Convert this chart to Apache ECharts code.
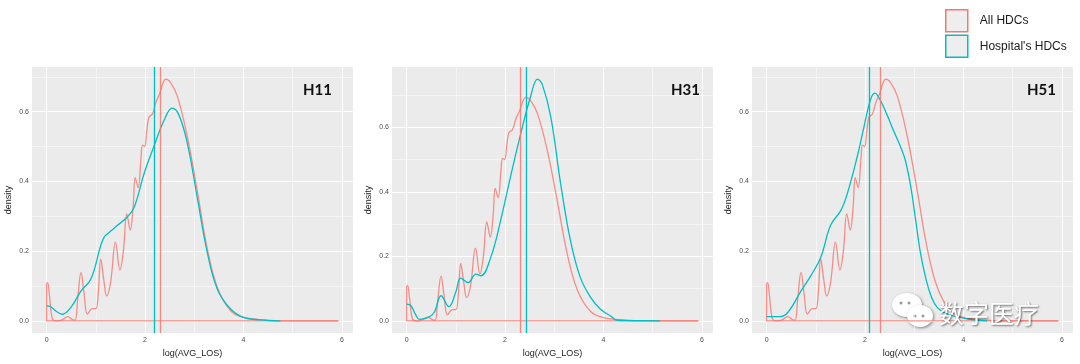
<!DOCTYPE html>
<html style="height: 100%">

<head>
    <meta charset="utf-8">
</head>

<body style="height: 100%; margin: 0; background: #fff">
    <div id="container" style="width: 1080px; height: 364px">
    </div>

    <script src="https://cdn.jsdelivr.net/npm/echarts@6/dist/echarts.min.js" type="text/javascript"></script>

    <script type="text/javascript">
        // density of log(AVG_LOS), all HDCs (same curve in every panel)
        var allX = [0, 0, 0.02, 0.06, 0.12, 0.2, 0.3, 0.43, 0.52, 0.58, 0.63, 0.70, 0.76, 0.83, 0.93, 1.0, 1.05, 1.10, 1.16, 1.22, 1.30, 1.40, 1.49, 1.56, 1.63, 1.70, 1.76, 1.80, 1.86, 1.92, 1.95, 1.99, 2.04, 2.08, 2.15, 2.22, 2.30, 2.36, 2.42, 2.52, 2.66, 2.86, 3.06, 3.26, 3.47, 3.74, 4.0, 4.48, 4.75, 5.93];
        var allY = [0, 0.105, 0.11, 0.07, 0.005, 0, 0.002, 0.012, 0.004, 0.002, 0.06, 0.139, 0.08, 0.019, 0.035, 0.035, 0.08, 0.178, 0.12, 0.072, 0.11, 0.226, 0.146, 0.2, 0.307, 0.26, 0.33, 0.411, 0.382, 0.47, 0.504, 0.50, 0.55, 0.584, 0.593, 0.626, 0.653, 0.68, 0.693, 0.683, 0.643, 0.528, 0.374, 0.211, 0.096, 0.029, 0.01, 0.002, 0, 0];
        var allRange = [0, 5.93];
        var allMean = 2.31;

        // hospital HDCs
        var h11X = [0, 0.09, 0.2, 0.32, 0.49, 0.70, 0.90, 1.10, 1.17, 1.24, 1.44, 1.64, 1.78, 1.98, 2.18, 2.39, 2.55, 2.69, 2.86, 3.06, 3.26, 3.47, 3.74, 4.0, 4.34, 4.75];
        var h11Y = [0.043, 0.04, 0.027, 0.019, 0.038, 0.086, 0.12, 0.216, 0.24, 0.25, 0.274, 0.298, 0.326, 0.422, 0.50, 0.576, 0.61, 0.59, 0.509, 0.355, 0.20, 0.091, 0.034, 0.01, 0.003, 0];
        var h11Mean = 2.18;

        var h31X = [0, 0.09, 0.18, 0.26, 0.43, 0.56, 0.70, 0.86, 1.0, 1.10, 1.25, 1.41, 1.51, 1.71, 1.91, 2.11, 2.32, 2.52, 2.66, 2.76, 2.93, 3.13, 3.33, 3.53, 3.74, 3.94, 4.14, 4.28, 4.61, 5.15];
        var h31Y = [0.052, 0.047, 0.02, 0.005, 0.01, 0.026, 0.078, 0.044, 0.09, 0.133, 0.119, 0.145, 0.14, 0.197, 0.311, 0.446, 0.581, 0.696, 0.75, 0.732, 0.633, 0.426, 0.249, 0.135, 0.073, 0.036, 0.016, 0.002, 0.001, 0];
        var h31Mean = 2.43;

        var h51X = [0, 0.26, 0.43, 0.70, 0.90, 1.10, 1.30, 1.51, 1.64, 1.84, 1.98, 2.11, 2.20, 2.32, 2.45, 2.59, 2.72, 2.82, 2.93, 3.03, 3.13, 3.24, 3.34, 3.47, 3.67, 3.94, 4.21, 4.48];
        var h51Y = [0.012, 0.012, 0.024, 0.086, 0.13, 0.182, 0.274, 0.317, 0.365, 0.47, 0.557, 0.634, 0.653, 0.63, 0.59, 0.542, 0.50, 0.46, 0.384, 0.288, 0.192, 0.12, 0.072, 0.038, 0.019, 0.01, 0.003, 0];
        var h51Mean = 2.08;

        var panelNames = ['H11', 'H31', 'H51'];
        var seriesNames = ['All HDCs', "Hospital's HDCs"];

        // ticks and grid lines
        var xMajor = [0, 2, 4, 6];
        var xMinor = [1, 3, 5];
        var yMajor = [0, 0.2, 0.4, 0.6];
        var yMinor = [0.1, 0.3, 0.5, 0.7];
        var xLimits = [-0.297, 6.227];
        var yLimits = [[-0.0347, 0.728], [-0.0375, 0.7875], [-0.0347, 0.728]];

        var salmon = '#F8766D';
        var teal = '#00BFC4';

        function zip(xs, ys) {
            return xs.map(function (x, i) { return [x, ys[i]]; });
        }

        var hospitals = [
            { x: h11X, y: h11Y, mean: h11Mean },
            { x: h31X, y: h31Y, mean: h31Mean },
            { x: h51X, y: h51Y, mean: h51Mean }
        ];

        var dom = document.getElementById("container");
        var myChart = echarts.init(dom, null, { renderer: 'canvas' });

        var grids = [], xAxes = [], yAxes = [], series = [], titles = [];
        var lefts = [32, 392, 752];
        var titleRight = [748, 380, 24];

        hospitals.forEach(function (h, i) {
            grids.push({
                left: lefts[i], top: 67, width: 321, height: 266,
                show: true, backgroundColor: '#EBEBEB', borderWidth: 0
            });
            xAxes.push({
                type: 'value', gridIndex: i, min: xLimits[0], max: xLimits[1],
                axisLine: { show: false },
                axisTick: { show: true, length: 3, customValues: xMajor, lineStyle: { color: '#333' } },
                axisLabel: { customValues: xMajor, fontSize: 7, color: '#4D4D4D', margin: 4 },
                splitLine: { show: false },
                name: 'log(AVG_LOS)', nameLocation: 'middle', nameGap: 13,
                nameTextStyle: { fontSize: 9, color: '#1a1a1a' }
            });
            yAxes.push({
                type: 'value', gridIndex: i, min: yLimits[i][0], max: yLimits[i][1],
                axisLine: { show: false },
                axisTick: { show: true, length: 3, customValues: yMajor, lineStyle: { color: '#333' } },
                axisLabel: {
                    customValues: yMajor, fontSize: 7, color: '#4D4D4D', margin: 3,
                    formatter: function (v) { return v.toFixed(1); }
                },
                splitLine: { show: false },
                name: 'density', nameLocation: 'middle', nameGap: 19,
                nameTextStyle: { fontSize: 9, color: '#1a1a1a' }
            });
            titles.push({
                text: panelNames[i], right: titleRight[i], top: 83, padding: 0,
                textStyle: { fontFamily: 'Lato', fontWeight: 'bold', fontSize: 15, color: '#111' }
            });

            var gridLines = [];
            xMajor.forEach(function (v) { gridLines.push({ xAxis: v, lineStyle: { width: 1 } }); });
            yMajor.forEach(function (v) { gridLines.push({ yAxis: v, lineStyle: { width: 1 } }); });
            xMinor.forEach(function (v) { gridLines.push({ xAxis: v, lineStyle: { width: 0.5 } }); });
            yMinor.forEach(function (v) { gridLines.push({ yAxis: v, lineStyle: { width: 0.5 } }); });

            // bottom edge of the "All HDCs" density polygon, carries the panel grid lines
            series.push({
                name: seriesNames[0], type: 'line', xAxisIndex: i, yAxisIndex: i,
                data: [[allRange[0], 0], [allRange[1], 0]],
                showSymbol: false, z: 2,
                lineStyle: { color: salmon, width: 1.4, opacity: 0.8 },
                markLine: {
                    z: 1, silent: true, symbol: ['none', 'none'], label: { show: false },
                    lineStyle: { color: '#fff', type: 'solid' },
                    emphasis: { disabled: true },
                    data: gridLines
                }
            });
            series.push({
                name: seriesNames[0], type: 'line', xAxisIndex: i, yAxisIndex: i,
                data: zip(allX, allY), smooth: 0.4, showSymbol: false, z: 3,
                lineStyle: { color: salmon, width: 1.3, opacity: 0.8 },
                itemStyle: { color: salmon },
                markLine: {
                    silent: true, symbol: ['none', 'none'], label: { show: false },
                    lineStyle: { color: salmon, type: 'solid', width: 1.3, opacity: 0.85 },
                    data: [{ xAxis: allMean }]
                }
            });
            series.push({
                name: seriesNames[1], type: 'line', xAxisIndex: i, yAxisIndex: i,
                data: zip(h.x, h.y), smooth: 0.4, showSymbol: false, z: 4,
                lineStyle: { color: teal, width: 1.3 },
                itemStyle: { color: teal },
                markLine: {
                    silent: true, symbol: ['none', 'none'], label: { show: false },
                    lineStyle: { color: teal, type: 'solid', width: 1.3 },
                    data: [{ xAxis: h.mean }]
                }
            });
        });

        option = {
            animation: false,
            title: titles,
            legend: {
                orient: 'vertical', left: 945, top: 9, padding: 0,
                itemWidth: 22, itemHeight: 22, itemGap: 2,
                textStyle: { fontFamily: 'Liberation Sans', fontSize: 12, color: '#1a1a1a', padding: [0, 0, 0, 7] },
                data: [
                    { name: seriesNames[0], icon: 'rect', itemStyle: { color: '#EEEEEE', borderColor: salmon, borderWidth: 1.5 } },
                    { name: seriesNames[1], icon: 'rect', itemStyle: { color: '#EEEEEE', borderColor: teal, borderWidth: 1.5 } }
                ]
            },
            grid: grids,
            xAxis: xAxes,
            yAxis: yAxes,
            series: series,
            graphic: [
                {
                    type: 'group', left: 892, top: 293, z: 100, silent: true,
                    children: [
                        { type: 'ellipse', shape: { cx: 15, cy: 12, rx: 15, ry: 12 }, style: { fill: '#fff', shadowColor: 'rgba(0,0,0,0.45)', shadowBlur: 3, shadowOffsetX: 1, shadowOffsetY: 1 } },
                        { type: 'circle', shape: { cx: 9, cy: 10, r: 1.5 }, style: { fill: '#999' } },
                        { type: 'circle', shape: { cx: 17, cy: 10, r: 1.5 }, style: { fill: '#999' } },
                        { type: 'ellipse', shape: { cx: 28, cy: 23, rx: 13, ry: 11 }, style: { fill: '#fff', shadowColor: 'rgba(0,0,0,0.45)', shadowBlur: 3, shadowOffsetX: 1, shadowOffsetY: 1 } },
                        { type: 'circle', shape: { cx: 23, cy: 23, r: 1.5 }, style: { fill: '#999' } },
                        { type: 'circle', shape: { cx: 31, cy: 23, r: 1.5 }, style: { fill: '#999' } }
                    ]
                },
                {
                    type: 'text', left: 939, top: 301, z: 100, silent: true,
                    style: {
                        text: '数字医疗', font: '25px "Noto Sans CJK SC"', fill: '#fff',
                        textShadowColor: 'rgba(0,0,0,0.55)', textShadowBlur: 2, textShadowOffsetX: 1, textShadowOffsetY: 1
                    }
                }
            ]
        };

        if (option && typeof option === "object") {
            myChart.setOption(option, true);
        }
    </script>
</body>

</html>
